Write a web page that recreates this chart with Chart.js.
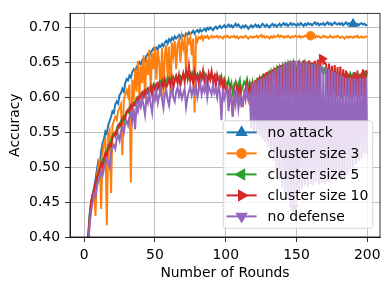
<!DOCTYPE html>
<html>
<head>
<meta charset="utf-8">
<script src="https://cdn.jsdelivr.net/npm/chart.js@4.4.0/dist/chart.umd.min.js"></script>
<style>
  html, body { margin: 0; padding: 0; background: #fff; }
  #wrap { width: 390px; height: 289px; }
</style>
</head>
<body>
<div id="wrap"><canvas id="accChart" width="390" height="289"></canvas></div>
<script>
// Accuracy per round (rounds 1..200)
const rounds = Array.from({ length: 200 }, (_, i) => i + 1);
const xTicks = [0, 50, 100, 150, 200];
const yTicks = [0.40, 0.45, 0.50, 0.55, 0.60, 0.65, 0.70];

const noAttack = [
    0.330, 0.372, 0.405, 0.432, 0.448, 0.462, 0.470, 0.482, 0.496, 0.508,
    0.503, 0.522, 0.534, 0.540, 0.551, 0.548, 0.560, 0.566, 0.572, 0.580,
    0.578, 0.590, 0.594, 0.591, 0.603, 0.606, 0.612, 0.608, 0.620, 0.626,
    0.624, 0.631, 0.628, 0.636, 0.640, 0.637, 0.643, 0.646, 0.650, 0.647,
    0.653, 0.655, 0.652, 0.659, 0.662, 0.658, 0.664, 0.667, 0.670, 0.666,
    0.671, 0.668, 0.674, 0.672, 0.676, 0.673, 0.678, 0.681, 0.677, 0.683,
    0.680, 0.685, 0.682, 0.687, 0.684, 0.686, 0.689, 0.685, 0.690, 0.688,
    0.686, 0.691, 0.689, 0.693, 0.690, 0.692, 0.695, 0.691, 0.694, 0.696,
    0.693, 0.697, 0.694, 0.696, 0.698, 0.695, 0.699, 0.697, 0.700, 0.698,
    0.696, 0.699, 0.701, 0.698, 0.700, 0.702, 0.699, 0.701, 0.703, 0.700,
    0.702, 0.704, 0.701, 0.703, 0.700, 0.702, 0.705, 0.702, 0.704, 0.701,
    0.699, 0.702, 0.700, 0.703, 0.701, 0.698, 0.701, 0.703, 0.700, 0.702,
    0.704, 0.701, 0.703, 0.700, 0.702, 0.705, 0.703, 0.701, 0.704, 0.702,
    0.700, 0.703, 0.705, 0.702, 0.704, 0.701, 0.703, 0.705, 0.702, 0.704,
    0.706, 0.703, 0.705, 0.702, 0.704, 0.706, 0.703, 0.705, 0.704, 0.702,
    0.705, 0.703, 0.706, 0.704, 0.702, 0.705, 0.703, 0.706, 0.704, 0.705,
    0.703, 0.705, 0.707, 0.704, 0.706, 0.703, 0.705, 0.704, 0.706, 0.703,
    0.705, 0.707, 0.704, 0.706, 0.703, 0.705, 0.707, 0.705, 0.704, 0.706,
    0.704, 0.706, 0.703, 0.705, 0.707, 0.704, 0.706, 0.705, 0.703, 0.705,
    0.706, 0.704, 0.705, 0.703, 0.705, 0.706, 0.704, 0.705, 0.703, 0.704
];

const cluster3 = [
    0.320, 0.365, 0.400, 0.425, 0.445, 0.455, 0.470, 0.430, 0.488, 0.500,
    0.512, 0.440, 0.520, 0.535, 0.540, 0.417, 0.545, 0.552, 0.463, 0.560,
    0.566, 0.572, 0.568, 0.580, 0.585, 0.590, 0.517, 0.596, 0.604, 0.610,
    0.602, 0.618, 0.478, 0.625, 0.596, 0.640, 0.608, 0.652, 0.600, 0.645,
    0.620, 0.660, 0.598, 0.655, 0.632, 0.668, 0.610, 0.664, 0.640, 0.672,
    0.625, 0.668, 0.650, 0.606, 0.670, 0.600, 0.662, 0.675, 0.628, 0.672,
    0.600, 0.678, 0.660, 0.680, 0.640, 0.676, 0.682, 0.650, 0.684, 0.670,
    0.682, 0.637, 0.685, 0.678, 0.686, 0.660, 0.684, 0.578, 0.686, 0.680,
    0.686, 0.684, 0.688, 0.682, 0.687, 0.685, 0.688, 0.684, 0.686, 0.688,
    0.685, 0.687, 0.686, 0.688, 0.685, 0.687, 0.686, 0.684, 0.687, 0.686,
    0.688, 0.686, 0.685, 0.687, 0.686, 0.688, 0.685, 0.687, 0.684, 0.686,
    0.687, 0.685, 0.686, 0.688, 0.686, 0.684, 0.686, 0.687, 0.685, 0.687,
    0.686, 0.688, 0.685, 0.687, 0.689, 0.686, 0.688, 0.685, 0.687, 0.686,
    0.684, 0.687, 0.685, 0.688, 0.686, 0.687, 0.689, 0.686, 0.688, 0.687,
    0.685, 0.687, 0.686, 0.688, 0.686, 0.685, 0.687, 0.686, 0.688, 0.687,
    0.686, 0.688, 0.685, 0.687, 0.686, 0.688, 0.687, 0.685, 0.687, 0.688,
    0.686, 0.687, 0.685, 0.688, 0.686, 0.687, 0.685, 0.686, 0.688, 0.686,
    0.687, 0.685, 0.686, 0.688, 0.686, 0.685, 0.687, 0.686, 0.688, 0.686,
    0.685, 0.687, 0.686, 0.684, 0.686, 0.687, 0.685, 0.687, 0.686, 0.685,
    0.687, 0.686, 0.688, 0.685, 0.686, 0.687, 0.685, 0.686, 0.687, 0.686
];

const cluster5 = [
    0.325, 0.370, 0.405, 0.435, 0.450, 0.458, 0.468, 0.475, 0.482, 0.490,
    0.495, 0.503, 0.510, 0.506, 0.518, 0.524, 0.530, 0.527, 0.538, 0.545,
    0.548, 0.544, 0.555, 0.560, 0.557, 0.566, 0.570, 0.565, 0.575, 0.580,
    0.578, 0.585, 0.582, 0.590, 0.588, 0.594, 0.598, 0.592, 0.600, 0.604,
    0.600, 0.607, 0.603, 0.610, 0.606, 0.613, 0.609, 0.616, 0.612, 0.618,
    0.614, 0.620, 0.616, 0.622, 0.618, 0.625, 0.619, 0.623, 0.628, 0.621,
    0.626, 0.622, 0.629, 0.624, 0.631, 0.626, 0.622, 0.630, 0.627, 0.633,
    0.628, 0.635, 0.630, 0.626, 0.634, 0.629, 0.636, 0.631, 0.627, 0.633,
    0.629, 0.635, 0.631, 0.627, 0.634, 0.630, 0.626, 0.632, 0.628, 0.634,
    0.630, 0.626, 0.632, 0.628, 0.624, 0.630, 0.626, 0.620, 0.627, 0.622,
    0.618, 0.625, 0.612, 0.620, 0.606, 0.616, 0.622, 0.610, 0.618, 0.625,
    0.608, 0.615, 0.622, 0.618, 0.626, 0.614, 0.620, 0.612, 0.622, 0.610,
    0.618, 0.624, 0.612, 0.626, 0.616, 0.628, 0.620, 0.630, 0.622, 0.633,
    0.624, 0.636, 0.626, 0.638, 0.628, 0.640, 0.630, 0.642, 0.632, 0.644,
    0.634, 0.646, 0.636, 0.648, 0.638, 0.648, 0.640, 0.650, 0.640, 0.640,
    0.640, 0.650, 0.642, 0.648, 0.640, 0.650, 0.642, 0.648, 0.640, 0.646,
    0.638, 0.646, 0.638, 0.644, 0.636, 0.644, 0.636, 0.642, 0.634, 0.640,
    0.632, 0.638, 0.630, 0.636, 0.628, 0.634, 0.626, 0.632, 0.624, 0.630,
    0.622, 0.628, 0.620, 0.630, 0.624, 0.632, 0.626, 0.634, 0.628, 0.633,
    0.627, 0.632, 0.624, 0.630, 0.622, 0.632, 0.626, 0.634, 0.628, 0.636
];

const cluster10 = [
    0.322, 0.368, 0.402, 0.430, 0.452, 0.460, 0.466, 0.478, 0.485, 0.492,
    0.498, 0.505, 0.500, 0.512, 0.520, 0.516, 0.528, 0.533, 0.530, 0.542,
    0.546, 0.550, 0.547, 0.558, 0.562, 0.559, 0.568, 0.572, 0.569, 0.578,
    0.582, 0.579, 0.588, 0.585, 0.592, 0.589, 0.596, 0.600, 0.595, 0.603,
    0.607, 0.601, 0.609, 0.605, 0.612, 0.608, 0.615, 0.604, 0.617, 0.611,
    0.618, 0.612, 0.620, 0.609, 0.622, 0.615, 0.625, 0.613, 0.620, 0.626,
    0.618, 0.628, 0.613, 0.624, 0.630, 0.620, 0.632, 0.617, 0.626, 0.634,
    0.622, 0.638, 0.627, 0.645, 0.624, 0.632, 0.620, 0.636, 0.625, 0.631,
    0.619, 0.633, 0.626, 0.638, 0.622, 0.630, 0.617, 0.634, 0.625, 0.637,
    0.621, 0.629, 0.616, 0.632, 0.624, 0.618, 0.628, 0.612, 0.622, 0.608,
    0.615, 0.600, 0.612, 0.596, 0.573, 0.610, 0.598, 0.615, 0.602, 0.618,
    0.590, 0.588, 0.605, 0.612, 0.620, 0.600, 0.616, 0.596, 0.622, 0.604,
    0.625, 0.600, 0.628, 0.598, 0.630, 0.602, 0.634, 0.596, 0.636, 0.600,
    0.638, 0.598, 0.640, 0.530, 0.642, 0.600, 0.645, 0.598, 0.646, 0.602,
    0.648, 0.600, 0.650, 0.604, 0.651, 0.600, 0.652, 0.603, 0.650, 0.600,
    0.652, 0.604, 0.650, 0.600, 0.653, 0.602, 0.651, 0.598, 0.653, 0.604,
    0.650, 0.600, 0.652, 0.602, 0.654, 0.600, 0.652, 0.655, 0.648, 0.650,
    0.646, 0.602, 0.648, 0.600, 0.645, 0.604, 0.646, 0.600, 0.643, 0.602,
    0.644, 0.598, 0.640, 0.602, 0.638, 0.600, 0.634, 0.598, 0.632, 0.600,
    0.636, 0.602, 0.638, 0.600, 0.634, 0.602, 0.640, 0.598, 0.637, 0.638
];

const noDefense = [
    0.318, 0.360, 0.392, 0.420, 0.438, 0.450, 0.462, 0.458, 0.472, 0.480,
    0.486, 0.494, 0.488, 0.498, 0.505, 0.512, 0.508, 0.500, 0.520, 0.528,
    0.532, 0.526, 0.540, 0.545, 0.538, 0.552, 0.556, 0.549, 0.562, 0.566,
    0.560, 0.572, 0.578, 0.566, 0.584, 0.554, 0.588, 0.580, 0.594, 0.586,
    0.598, 0.588, 0.575, 0.600, 0.592, 0.606, 0.590, 0.578, 0.604, 0.596,
    0.608, 0.592, 0.602, 0.612, 0.598, 0.585, 0.604, 0.610, 0.596, 0.588,
    0.606, 0.612, 0.600, 0.594, 0.608, 0.614, 0.602, 0.610, 0.598, 0.605,
    0.612, 0.586, 0.600, 0.608, 0.615, 0.603, 0.612, 0.606, 0.618, 0.600,
    0.610, 0.620, 0.604, 0.614, 0.608, 0.622, 0.600, 0.616, 0.610, 0.604,
    0.618, 0.606, 0.612, 0.600, 0.616, 0.604, 0.567, 0.612, 0.598, 0.606,
    0.612, 0.580, 0.608, 0.596, 0.572, 0.604, 0.590, 0.610, 0.584, 0.600,
    0.588, 0.592, 0.606, 0.596, 0.612, 0.598, 0.604, 0.556, 0.620, 0.552,
    0.622, 0.548, 0.624, 0.545, 0.627, 0.540, 0.628, 0.536, 0.631, 0.528,
    0.634, 0.520, 0.637, 0.508, 0.640, 0.495, 0.642, 0.484, 0.644, 0.470,
    0.648, 0.462, 0.650, 0.455, 0.652, 0.446, 0.651, 0.442, 0.652, 0.450,
    0.650, 0.462, 0.651, 0.470, 0.649, 0.474, 0.650, 0.472, 0.648, 0.476,
    0.647, 0.474, 0.648, 0.478, 0.646, 0.475, 0.645, 0.478, 0.643, 0.476,
    0.641, 0.480, 0.640, 0.478, 0.638, 0.482, 0.636, 0.480, 0.634, 0.484,
    0.632, 0.482, 0.630, 0.486, 0.628, 0.490, 0.627, 0.494, 0.626, 0.498,
    0.627, 0.504, 0.626, 0.508, 0.628, 0.512, 0.627, 0.520, 0.628, 0.518
];

const FONT = 'DejaVu Sans';
const FS = 13.9;

// one marker per curve, like matplotlib markevery
function markAt(idx, r) {
    return ctx => (ctx.dataIndex === idx ? r : 0);
}

function toPoints(vals) {
    return vals.map((v, i) => ({ x: rounds[i], y: v }));
}

const series = [
    { label: 'no attack', data: noAttack, color: '#1f77b4', style: 'triangle', rot: 0, mark: 189, r: 5.2 },
    { label: 'cluster size 3', data: cluster3, color: '#ff7f0e', style: 'circle', rot: 0, mark: 159, r: 4.3 },
    { label: 'cluster size 5', data: cluster5, color: '#2ca02c', style: 'triangle', rot: -90, mark: 149, r: 5.2 },
    { label: 'cluster size 10', data: cluster10, color: '#d62728', style: 'triangle', rot: 90, mark: 167, r: 5.2 },
    { label: 'no defense', data: noDefense, color: '#9467bd', style: 'triangle', rot: 180, mark: 147, r: 5.2 }
];

// legend drawn inside the axes, matplotlib style
const boxPlugin = {
    id: 'axesBoxAndLegend',
    afterDatasetsDraw(chart) {
        const ctx = chart.ctx;
        const a = chart.chartArea;
        ctx.save();

        // legend frame
        const w = 149.5, h = 107.5;
        const x0 = a.right - 7.3 - w;
        const y0 = a.bottom - 8.7 - h;
        const rad = 3;
        ctx.beginPath();
        ctx.moveTo(x0 + rad, y0);
        ctx.arcTo(x0 + w, y0, x0 + w, y0 + h, rad);
        ctx.arcTo(x0 + w, y0 + h, x0, y0 + h, rad);
        ctx.arcTo(x0, y0 + h, x0, y0, rad);
        ctx.arcTo(x0, y0, x0 + w, y0, rad);
        ctx.closePath();
        ctx.fillStyle = 'rgba(255,255,255,0.8)';
        ctx.fill();
        ctx.strokeStyle = 'rgba(204,204,204,0.8)';
        ctx.lineWidth = 1;
        ctx.stroke();

        series.forEach((s, i) => {
            const cy = y0 + 11.6 + i * 21;
            const lx = x0 + 3.4;
            ctx.strokeStyle = s.color;
            ctx.lineWidth = 2;
            ctx.beginPath();
            ctx.moveTo(lx, cy);
            ctx.lineTo(lx + 30, cy);
            ctx.stroke();
            ctx.fillStyle = s.color;
            Chart.helpers.drawPoint(ctx, {
                pointStyle: s.style,
                rotation: s.rot,
                radius: s.r,
                borderWidth: 1
            }, lx + 15, cy);
            ctx.fill();
            ctx.fillStyle = '#000';
            ctx.font = FS + 'px "' + FONT + '"';
            ctx.textBaseline = 'middle';
            ctx.textAlign = 'left';
            ctx.fillText(s.label, lx + 41, cy + 0.5);
        });

        // full axes frame
        ctx.strokeStyle = '#000';
        ctx.lineWidth = 0.8;
        ctx.strokeRect(a.left, a.top, a.right - a.left, a.bottom - a.top);
        ctx.restore();
    }
};

const datasets = series.map((s, i) => ({
    label: s.label,
    data: toPoints(s.data),
    borderColor: s.color,
    backgroundColor: s.color,
    borderWidth: 2,
    tension: 0,
    fill: false,
    order: series.length - i,
    pointStyle: s.style,
    rotation: s.rot,
    pointRadius: markAt(s.mark, s.r),
    pointHoverRadius: 0,
    pointBorderWidth: 1,
    pointBackgroundColor: s.color,
    pointBorderColor: s.color
}));

new Chart(document.getElementById('accChart'), {
    type: 'line',
    data: { datasets: datasets },
    options: {
        responsive: false,
        animation: false,
        devicePixelRatio: 1,
        events: [],
        layout: { padding: { top: 9, right: 10, left: 0, bottom: 0 } },
        plugins: {
            legend: { display: false },
            tooltip: { enabled: false }
        },
        scales: {
            x: {
                type: 'linear',
                min: -10,
                max: 209,
                afterBuildTicks: scale => { scale.ticks = xTicks.map(v => ({ value: v })); },
                afterFit: scale => { scale.height = 52; },
                ticks: {
                    color: '#000',
                    padding: 5,
                    maxRotation: 0,
                    font: { family: FONT, size: FS },
                    callback: v => String(v)
                },
                grid: { color: '#b0b0b0', lineWidth: 0.8, tickColor: '#000', tickLength: 5, tickWidth: 0.8 },
                border: { display: true, color: '#000', width: 0.8 },
                title: {
                    display: true,
                    text: 'Number of Rounds',
                    color: '#000',
                    font: { family: FONT, size: FS },
                    padding: { top: 0, bottom: 7 }
                }
            },
            y: {
                min: 0.40,
                max: 0.72,
                afterBuildTicks: scale => { scale.ticks = yTicks.map(v => ({ value: v })); },
                afterFit: scale => { scale.width = 70; },
                ticks: {
                    color: '#000',
                    padding: 5,
                    font: { family: FONT, size: FS },
                    callback: v => Number(v).toFixed(2)
                },
                grid: { color: '#b0b0b0', lineWidth: 0.8, tickColor: '#000', tickLength: 5, tickWidth: 0.8 },
                border: { display: true, color: '#000', width: 0.8 },
                title: {
                    display: true,
                    text: 'Accuracy',
                    color: '#000',
                    font: { family: FONT, size: FS },
                    padding: { top: 7.5, bottom: 0 }
                }
            }
        }
    },
    plugins: [boxPlugin]
});
</script>
</body>
</html>
